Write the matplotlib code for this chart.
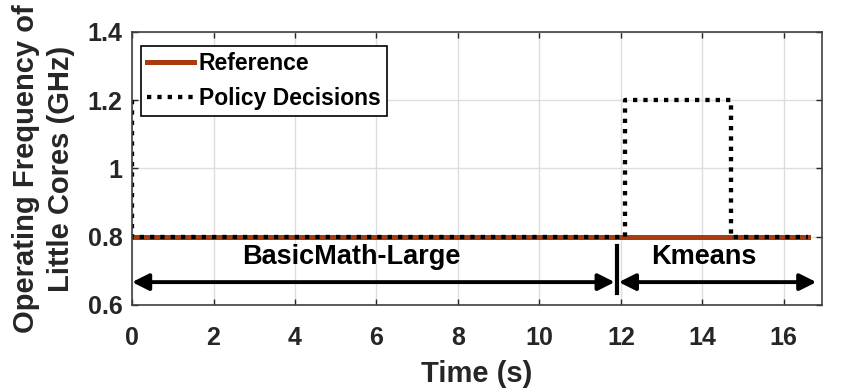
import matplotlib.pyplot as plt

plt.rcParams['font.family'] = ['Liberation Sans', 'DejaVu Sans']
plt.rcParams['font.weight'] = 'bold'

# data
ref_time = [0, 16.6]
ref_freq = [0.8, 0.8]
policy_time = [0, 0, 12.1, 12.1, 14.7, 14.7, 16.6]
policy_freq = [1.2, 0.8, 0.8, 1.2, 1.2, 0.8, 0.8]

# application phases (start, end, label, label x)
phases = [(0, 11.85, 'BasicMath-Large', 5.38), (11.95, 16.8, 'Kmeans', 14.04)]
x_ticks = [0, 2, 4, 6, 8, 10, 12, 14, 16]
y_ticks = [0.6, 0.8, 1.0, 1.2, 1.4]
y_ticklabels = ['0.6', '0.8', '1', '1.2', '1.4']

fig = plt.figure(figsize=(8.41, 3.9), dpi=100)
ax = fig.add_axes([0.157, 0.218, 0.82, 0.70])

ax.plot(ref_time, ref_freq, color='#A83C0F', lw=3.6, label='Reference')
ax.plot(policy_time, policy_freq, color='black', lw=3.1, ls=(0, (1, 1.4)),
        label='Policy Decisions')

# phase annotations
arrow_y = 0.667
for start, end, name, xc in phases:
    ax.annotate('', xy=(start, arrow_y), xytext=(end, arrow_y),
                arrowprops=dict(arrowstyle='<|-|>', color='black', lw=2.8,
                                mutation_scale=25, shrinkA=0, shrinkB=0))
    ax.text(xc, 0.742, name, ha='center', va='center',
            fontsize=19.5, fontweight='bold')
ax.plot([11.9, 11.9], [0.635, 0.774], color='black', lw=3)

ax.set_xlim(0, 16.93)
ax.set_ylim(0.6, 1.4)
ax.set_xticks(x_ticks)
ax.set_yticks(y_ticks)
ax.set_yticklabels(y_ticklabels)
ax.tick_params(direction='in', top=True, right=True, labelsize=18,
               colors='#262626', length=4, width=1)
ax.tick_params(axis='x', pad=15)
ax.tick_params(axis='y', pad=7)
ax.grid(True, color='#dddddd', lw=1)
ax.set_axisbelow(True)
for sp in ax.spines.values():
    sp.set_color('#404040')
    sp.set_linewidth(1.2)

ax.set_xlabel('Time (s)', fontsize=21, fontweight='bold', color='#262626', labelpad=7)
ax.set_ylabel('Operating Frequency of\nLittle Cores (GHz)', fontsize=21,
              fontweight='bold', color='#262626', linespacing=1.3, labelpad=9)

leg = ax.legend(loc='upper left', bbox_to_anchor=(0.013, 0.949), fontsize=16.5,
                frameon=True, fancybox=False, edgecolor='black', framealpha=1,
                handlelength=2.05, handletextpad=0.2, borderpad=0.28,
                labelspacing=0.5, borderaxespad=0)
leg.get_frame().set_linewidth(1.2)

plt.savefig('out.png', dpi=100)
